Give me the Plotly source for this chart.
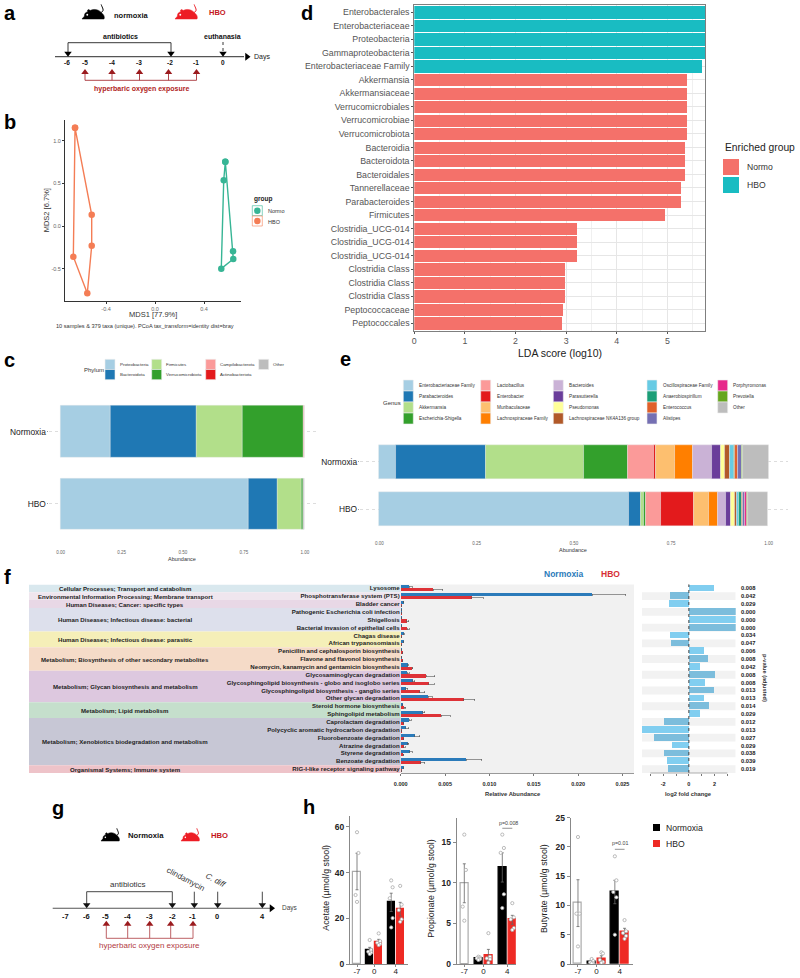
import plotly.graph_objects as go

W, H = 800, 978
FONT = "Liberation Sans"

# panel a / g timelines (schematic days and where each one sits on the canvas)
A_DAYS = ["-6", "-5", "-4", "-3", "-2", "-1", "0"]
A_DAY_X = [66.7, 85, 112, 139.3, 170, 196.3, 223]
A_HBO_X = [85, 112, 139.5, 168.5, 196.5]
G_DAYS = ["-7", "-6", "-5", "-4", "-3", "-2", "-1", "0", "4"]
G_DAY_X = [65.7, 86.7, 105.3, 127, 149, 172.3, 192, 217, 262]
G_HBO_X = [106.3, 127.7, 149.7, 170.7, 193]
G_DOSE_X = [194.3, 217.7, 262.3]

# panel b
MDS_HBO_X = [-0.653, -0.517, -0.517, -0.553, -0.667, -0.653]
MDS_HBO_Y = [1.152, 0.132, -0.231, -0.789, -0.36, 1.152]
MDS_NORMO_X = [0.574, 0.637, 0.639, 0.541, 0.561, 0.574]
MDS_NORMO_Y = [0.754, -0.297, -0.387, -0.5, 0.536, 0.754]

# panel c
PHYLA = ["Proteobacteria", "Bacteroidota", "Firmicutes", "Verrucomicrobiota",
         "Campilobacterota", "Actinobacteriota", "Other"]
PHYLA_COLORS = ["#A6CEE3", "#1F78B4", "#B2DF8A", "#33A02C", "#FB9A99", "#E31A1C", "#BDBDBD"]
PHYLA_NORMOXIA = [0.204, 0.351, 0.188, 0.252, 0.005, 0.0, 0.0]
PHYLA_HBO = [0.770, 0.118, 0.100, 0.0065, 0.0, 0.0, 0.0055]

# panel d
LDA_TAXA = ["Enterobacterales", "Enterobacteriaceae", "Proteobacteria", "Gammaproteobacteria",
            "Enterobacteriaceae Family", "Akkermansia", "Akkermansiaceae", "Verrucomicrobiales",
            "Verrucomicrobiae", "Verrucomicrobiota", "Bacteroidia", "Bacteroidota", "Bacteroidales",
            "Tannerellaceae", "Parabacteroides", "Firmicutes", "Clostridia_UCG-014",
            "Clostridia_UCG-014", "Clostridia_UCG-014", "Clostridia Class", "Clostridia Class",
            "Clostridia Class", "Peptococcaceae", "Peptococcales"]
LDA_SCORE = [5.75, 5.75, 5.75, 5.75, 5.685, 5.40, 5.40, 5.40, 5.40, 5.40, 5.35, 5.35, 5.35,
             5.27, 5.27, 4.96, 3.22, 3.22, 3.22, 2.99, 2.99, 2.99, 2.94, 2.93]
LDA_GROUP = ["HBO"] * 5 + ["Normo"] * 19

# panel e
GENERA = ["Enterobacteriaceae Family", "Parabacteroides", "Akkermansia", "Escherichia-Shigella",
          "Lactobacillus", "Enterobacter", "Muribaculaceae", "Lachnospiraceae Family",
          "Bacteroides", "Parasutterella", "Pseudomonas", "Lachnospiraceae NK4A136 group",
          "Oscillospiraceae Family", "Anaerobiospirillum", "Enterococcus", "Alistipes",
          "Porphyromonas", "Prevotella", "Other"]
GENERA_COLORS = ["#A6CEE3", "#1F78B4", "#B2DF8A", "#33A02C", "#FB9A99", "#E31A1C", "#FDBF6F",
                 "#FF7F00", "#CAB2D6", "#6A3D9A", "#FFFF99", "#B15928", "#67CBE4", "#1B9E77",
                 "#E0602A", "#7570B3", "#E7298A", "#66A61E", "#BDBDBD"]
GENERA_NORMOXIA = [0.043, 0.2307, 0.2515, 0.1138, 0.066, 0.005, 0.048, 0.047, 0.0496, 0.024,
                   0.0094, 0.0127, 0.011, 0.0017, 0.0085, 0.0085, 0.001, 0.0023, 0.0663]
GENERA_HBO = [0.640, 0.032, 0.0067, 0.0067, 0.0377, 0.0847, 0.0385, 0.0222, 0.0205, 0.0145,
              0.0111, 0.0051, 0.0051, 0.0068, 0.0034, 0.0034, 0.0051, 0.0043, 0.0513]

# panel f
PATHWAYS = ["Lysosome", "Phosphotransferase system (PTS)", "Bladder cancer",
            "Pathogenic Escherichia coli infection", "Shigellosis",
            "Bacterial invasion of epithelial cells", "Chagas disease", "African trypanosomiasis",
            "Penicillin and cephalosporin biosynthesis", "Flavone and flavonol biosynthesis",
            "Neomycin, kanamycin and gentamicin biosynthesis", "Glycosaminoglycan degradation",
            "Glycosphingolipid biosynthesis - globo and isoglobo series",
            "Glycosphingolipid biosynthesis - ganglio series", "Other glycan degradation",
            "Steroid hormone biosynthesis", "Sphingolipid metabolism", "Caprolactam degradation",
            "Polycyclic aromatic hydrocarbon degradation", "Fluorobenzoate degradation",
            "Atrazine degradation", "Styrene degradation", "Benzoate degradation",
            "RIG-I-like receptor signaling pathway"]
PATH_GROUPS = ["Cellular Processes; Transport and catabolism",
               "Environmental Information Processing; Membrane transport",
               "Human Diseases; Cancer: specific types",
               "Human Diseases; Infectious disease: bacterial",
               "Human Diseases; Infectious disease: parasitic",
               "Metabolism; Biosynthesis of other secondary metabolites",
               "Metabolism; Glycan biosynthesis and metabolism",
               "Metabolism; Lipid metabolism",
               "Metabolism; Xenobiotics biodegradation and metabolism",
               "Organismal Systems; Immune system"]
PATH_GROUP_ROWS = [1, 1, 1, 3, 2, 3, 4, 2, 6, 1]
PATH_GROUP_COLORS = ["#D9E8EE", "#EFE6EE", "#E8D8E6", "#DDE0EC", "#F5EFB8",
                     "#F5DBC8", "#DDC8DF", "#C5DFCC", "#C7C7D5", "#EEC3C9"]
ABUND_NORMOXIA = [.00094, .02158, .0003, .00004, .0001, .0001, .00034, .0003, .0001, .0001,
                  .00079, .00071, .00135, .00056, .00308, .00023, .00248, .00094, .00056,
                  .00158, .00075, .00098, .00737, .00034]
ABUND_NORMOXIA_ERR = [.00034, .0038, .00004, 0, 0, 0, .00004, .00004, 0, 0,
                      .00004, .00027, .00023, .00023, .00049, .00002, .00023, .00026, .00034,
                      .00056, .00015, .00034, .00177, .00002]
ABUND_HBO = [.00365, .00801, .00008, .00008, .00068, .00071, .00011, .0001, .00023, .00015,
             .00128, .00286, .00316, .00211, .00707, .00038, .00455, .0003, .00011,
             .00034, .00034, .00026, .00222, .00011]
ABUND_HBO_ERR = [.00109, .00131, 0, 0, .00022, .00027, 0, 0, .00002, 0,
                 .00008, .00097, .00064, .0006, .00128, .00018, .00105, .00004, 0,
                 .00002, .00015, .00008, .00049, 0]
LOG2FC = [1.97, -1.45, -1.53, 3.66, 3.66, 3.66, -1.48, -1.38, 1.19, 1.5, 0.83, 2.03, 1.22, 1.97,
          1.19, 1.56, 0.88, -1.92, -3.64, -2.68, -1.32, -1.97, -1.74, -1.61]
P_ADJ = ["0.008", "0.042", "0.029", "0.000", "0.000", "0.000", "0.034", "0.047", "0.006", "0.008",
         "0.042", "0.008", "0.008", "0.013", "0.013", "0.014", "0.029", "0.012", "0.013", "0.027",
         "0.029", "0.038", "0.039", "0.019"]

# panel h, bars in order -7, 0 normoxia, 0 HBO, 4 normoxia, 4 HBO
SCFA_SLOTS = [0, 1.41, 2.41, 3.8, 4.8]
SCFA_DAY_TICKS = [0, 1.91, 4.3]
SCFA_DAY_LABELS = ["-7", "0", "4"]
ACETATE = [40.5, 6.3, 9.8, 27, 24]
ACETATE_ERR = [8, 1, 1, 4, 3]
ACETATE_PTS = [[57.7, 48.6, 30.2, 27.2], [10.5, 6.1, 5.4, 5, 4.4], [13.4, 10, 9.3, 8.8, 8.3],
               [36.6, 33.6, 28.8, 20.1, 16], [34.2, 26, 23.6, 19.6, 18.5]]
PROPIONATE = [9.95, 0.7, 1.1, 11.9, 5.45]
PROPIONATE_ERR = [2.4, 0.1, 0.7, 1.8, 0.55]
PROPIONATE_PTS = [[15.95, 11.6, 7.07, 5.34], [0.9, 0.8, 0.7, 0.6, 0.5], [3.8, 0.9, 0.7, 0.6, 0.16],
                  [15.95, 14.3, 13.7, 8.6, 6.9], [7.5, 5.75, 5.5, 4.44, 4.2]]
BUTYRATE = [10.4, 0.4, 0.9, 12.3, 5.5]
BUTYRATE_ERR = [4, 0.2, 0.5, 2, 0.6]
BUTYRATE_PTS = [[21.7, 8.6, 8.6, 3], [0.85, 0.5, 0.3, 0.1, 0.1], [2, 1.8, 0.7, 0.35, 0.2],
                [18.4, 14.3, 12.3, 11.4, 5], [7.5, 5.6, 5.3, 4.8, 4.3]]

layout = dict(shapes=[], annotations=[])
fig = go.Figure()


def X(px):
    return px / W


def Y(py):
    return 1 - py / H


def note(text, x, y, size, color="#222222", anchor="center", angle=0, yref=None, bold=False):
    if bold:
        text = "<b>" + text + "</b>"
    layout["annotations"].append(dict(
        text=text, x=X(x), y=y if yref else Y(y), xref="paper", yref=yref or "paper",
        xanchor=anchor, yanchor="middle", showarrow=False, textangle=angle,
        font=dict(size=size, color=color, family=FONT)))


def box(x0, y0, x1, y1, color, line=None, layer="above"):
    layout["shapes"].append(dict(
        type="rect", xref="paper", yref="paper", x0=X(x0), x1=X(x1), y0=Y(y0), y1=Y(y1),
        fillcolor=color, line=dict(color=line or color, width=0.6 if line else 0), layer=layer))


def add_axes(n, left, right, top, bottom, xcfg, ycfg):
    layout[f"xaxis{n}"] = dict(domain=[X(left), X(right)], anchor=f"y{n}", **xcfg)
    layout[f"yaxis{n}"] = dict(domain=[Y(bottom), Y(top)], anchor=f"x{n}", **ycfg)


def mouse(x, y, w, h, color):
    # little mouse glyph, icon space is 24 x 16 units
    sx, sy = w / 24, h / 16

    def p(a, b):
        return f"{X(x + a * sx):.5f},{Y(y + b * sy):.5f}"

    body = (f"M{p(0, 16)} L{p(2.5, 13)} C{p(2.5, 10)} {p(4, 8.5)} {p(6, 8.5)} "
            f"C{p(5, 6)} {p(7, 5)} {p(8.5, 7)} C{p(12, 5)} {p(17, 5.5)} {p(20, 9)} "
            f"C{p(22.5, 11)} {p(24, 13.5)} {p(23, 16)} Z")
    tail = f"M{p(20, 9)} C{p(24, 7)} {p(21, 4)} {p(20, 0.5)}"
    layout["shapes"].append(dict(type="path", path=body, xref="paper", yref="paper",
                                 fillcolor=color, line=dict(color=color, width=0.5)))
    layout["shapes"].append(dict(type="path", path=tail, xref="paper", yref="paper",
                                 line=dict(color=color, width=1)))
    layout["shapes"].append(dict(type="circle", xref="paper", yref="paper", fillcolor="#FFFFFF",
                                 x0=X(x + 4.5 * sx), x1=X(x + 6.5 * sx), y0=Y(y + 12.5 * sy), y1=Y(y + 10.5 * sy),
                                 line=dict(width=0)))


def tl_line(xs, ys, color, width=1.0, dash="solid"):
    fig.add_trace(go.Scatter(x=xs, y=ys, mode="lines", xaxis="x10", yaxis="y10", showlegend=False,
                             line=dict(color=color, width=width, dash=dash)))


def tl_heads(xs, ys, color, symbol, size=7):
    fig.add_trace(go.Scatter(x=xs, y=ys, mode="markers", xaxis="x10", yaxis="y10", showlegend=False,
                             marker=dict(color=color, symbol=symbol, size=size, line=dict(width=0))))


def stacked(names, colors, normoxia, hbo, xaxis, yaxis):
    left = [0.0, 0.0]
    for name, color, v_n, v_h in zip(names, colors, normoxia, hbo):
        vals = [v_h, v_n]
        fig.add_trace(go.Bar(y=["HBO", "Normoxia"], x=vals, base=list(left), name=name, orientation="h",
                             width=0.71, xaxis=xaxis, yaxis=yaxis, showlegend=False,
                             marker=dict(color=color, line=dict(color="rgba(235,235,235,0.7)", width=0.5))))
        left = [left[0] + v_h, left[1] + v_n]


# canvas axes for the schematics
add_axes(10, 0, W, 0, H, dict(range=[0, W], visible=False), dict(range=[H, 0], visible=False))

# ---- a
mouse(82, 4, 23, 15, "#000000")
mouse(175, 4, 23, 15, "#ED1C24")
note("normoxia", 112, 15, 7.5, "#111111", "left", bold=True)
note("HBO", 207, 13, 7.5, "#C4161C", "left", bold=True)
note("antibiotics", 120, 36, 7, "#111111", bold=True)
note("euthanasia", 222, 36, 7, "#111111", bold=True)
tl_line([55, 244], [56.7, 56.7], "#555555", 1.2)
tl_heads([247], [56.7], "#000000", "triangle-right", 7)
note("Days", 252, 56.7, 7, "#222222", "left")
tl_line([68, 68, 171, 171], [53, 42.7, 42.7, 53], "#222222", 0.9)
tl_heads([68, 171], [53.5, 53.5], "#000000", "triangle-down", 6.5)
tl_line([223, 223], [42, 51], "#222222", 0.9, "dot")
tl_heads([223], [53.5], "#000000", "triangle-down", 6.5)
for day, px in zip(A_DAYS, A_DAY_X):
    note(day, px, 63, 6.5, "#111111", bold=True)
tl_line([A_HBO_X[0], A_HBO_X[-1]], [80.3, 80.3], "#A83238", 0.9)
for px in A_HBO_X:
    tl_line([px, px], [80.3, 74], "#A83238", 0.9)
tl_heads(A_HBO_X, [72.3] * 5, "#9B1B1E", "triangle-up", 6.5)
note("hyperbaric oxygen exposure", 141, 89, 7, "#B01C22", bold=True)

# ---- b
add_axes(1, 65, 241, 120, 301,
         dict(range=[-0.735, 0.702], tickvals=[-0.4, 0.0, 0.4], ticktext=["-0.4", "0.0", "0.4"],
              showline=True, linecolor="#333333", linewidth=1, ticks="outside", ticklen=2,
              tickcolor="#333333", showgrid=False, zeroline=False,
              tickfont=dict(size=5.5, color="#666666")),
         dict(range=[-0.879, 1.243], tickvals=[-0.5, 0.0, 0.5, 1.0], ticktext=["-0.5", "0.0", "0.5", "1.0"],
              showline=True, linecolor="#333333", linewidth=1, ticks="outside", ticklen=2,
              tickcolor="#333333", showgrid=False, zeroline=False,
              tickfont=dict(size=5.5, color="#666666")))
for xs, ys, color in [(MDS_HBO_X, MDS_HBO_Y, "#F47D55"), (MDS_NORMO_X, MDS_NORMO_Y, "#37B595")]:
    fig.add_trace(go.Scatter(x=xs, y=ys, mode="lines+markers", xaxis="x", yaxis="y", showlegend=False,
                             line=dict(color=color, width=1.4), marker=dict(color=color, size=6.5)))
layout["xaxis"] = layout.pop("xaxis1")
layout["yaxis"] = layout.pop("yaxis1")
layout["xaxis"]["anchor"] = "y"
layout["yaxis"]["anchor"] = "x"
note("MDS1 [77.9%]", 153, 315, 7.5, "#333333")
note("MDS2 [6.7%]", 47.3, 210, 7.5, "#333333", angle=-90)
note("10 samples &amp; 379 taxa (unique). PCoA tax_transform=identity dist=bray", 145, 325.7, 5.6, "#333333")
note("group", 252, 199, 6.5, "#222222", "left", bold=True)
box(252.3, 205.7, 262.3, 215.7, "#FFFFFF", "#37B595", layer="below")
box(252.3, 216, 262.3, 226, "#FFFFFF", "#F47D55", layer="below")
tl_heads([257.3], [210.7], "#37B595", "circle", 6.5)
tl_heads([257.3], [221], "#F47D55", "circle", 6.5)
note("Normo", 266.3, 210.7, 5.5, "#333333", "left")
note("HBO", 266.3, 221.7, 5.5, "#333333", "left")

# ---- c
add_axes(2, 48.5, 317, 395.5, 540,
         dict(range=[-0.05, 1.05], tickvals=[0, 0.25, 0.5, 0.75, 1], ticktext=["0.00", "0.25", "0.50", "0.75", "1.00"],
              showgrid=False, zeroline=False, ticks="outside", ticklen=8, tickcolor="rgba(255,255,255,0)",
              tickfont=dict(size=4.5, color="#666666")),
         dict(type="category", categoryorder="array", categoryarray=["HBO", "Normoxia"], range=[-0.5, 1.5],
              showgrid=True, gridcolor="#DDDDDD", griddash="dot", gridwidth=0.6, ticks="outside", ticklen=1,
              tickcolor="#999999", ticklabelstandoff=-1, tickfont=dict(size=8.4, color="#222222")))
stacked(PHYLA, PHYLA_COLORS, PHYLA_NORMOXIA, PHYLA_HBO, "x2", "y2")
note("Abundance", 182, 559, 5.5, "#333333")
note("Phylum", 82, 370, 6, "#333333", "left")
C_COLS = [(105, 118), (151.7, 164.3), (205.7, 218), (258.7, 271)]
for i, (name, color) in enumerate(zip(PHYLA, PHYLA_COLORS)):
    sx, tx = C_COLS[i // 2]
    top = 359.3 + (i % 2) * 10.2
    box(sx, top, sx + 10, top + 10.2, color, "#EEEEEE")
    note(name, tx, top + 5.2, 4.4, "#333333", "left")

# ---- d
d_colors = ["#19BCC2" if g == "HBO" else "#F4716A" for g in LDA_GROUP]
add_axes(3, 414.3, 705.3, 4.7, 330.7,
         dict(range=[0, 5.75], tick0=0, dtick=1, showgrid=True, gridcolor="#E6E6E6", gridwidth=0.7,
              minor=dict(dtick=0.5, showgrid=True, gridcolor="#F0F0F0", gridwidth=0.5),
              showline=True, mirror=True, linecolor="#7F7F7F", linewidth=1, ticks="outside", ticklen=2,
              tickcolor="#555555", zeroline=False, tickfont=dict(size=8.8, color="#555555")),
         dict(range=[23.55, -0.55], tickvals=list(range(24)), ticktext=LDA_TAXA, showgrid=True,
              gridcolor="#E6E6E6", gridwidth=0.7, showline=True, mirror=True, linecolor="#7F7F7F",
              linewidth=1, ticks="outside", ticklen=2, tickcolor="#555555", zeroline=False,
              tickfont=dict(size=8.8, color="#555555")))
fig.add_trace(go.Bar(y=list(range(24)), x=LDA_SCORE, orientation="h", width=0.9, xaxis="x3", yaxis="y3",
                     showlegend=False, marker=dict(color=d_colors, line=dict(width=0))))
note("LDA score (log10)", 560, 353, 10.5, "#222222")
note("Enriched group", 722.7, 147, 10.3, "#222222", "left")
box(723, 159, 739, 175, "#F4716A")
box(723, 177, 739, 193, "#19BCC2")
note("Normo", 745, 167, 8.6, "#333333", "left")
note("HBO", 745, 184.7, 8.6, "#333333", "left")

# ---- e
add_axes(4, 359.8, 788, 438.1, 532.9,
         dict(range=[-0.05, 1.05], tickvals=[0, 0.25, 0.5, 0.75, 1], ticktext=["0.00", "0.25", "0.50", "0.75", "1.00"],
              showgrid=False, zeroline=False, ticks="outside", ticklen=6, tickcolor="rgba(255,255,255,0)",
              tickfont=dict(size=4.5, color="#666666")),
         dict(type="category", categoryorder="array", categoryarray=["HBO", "Normoxia"], range=[-0.5, 1.5],
              showgrid=True, gridcolor="#DDDDDD", griddash="dot", gridwidth=0.6, ticks="outside", ticklen=1,
              tickcolor="#999999", ticklabelstandoff=-1, tickfont=dict(size=8.4, color="#222222")))
stacked(GENERA, GENERA_COLORS, GENERA_NORMOXIA, GENERA_HBO, "x4", "y4")
note("Abundance", 573, 550, 5.5, "#333333")
note("Genus", 381, 402.7, 6, "#333333", "left")
E_COLS = [(403.3, 417.3, 4), (480.7, 494.7, 4), (553.3, 567, 4), (647, 660.7, 4), (717.7, 731.3, 3)]
i = 0
for sx, tx, n in E_COLS:
    for r in range(n):
        top = 380 + r * 11
        box(sx, top, sx + 10, top + 11, GENERA_COLORS[i], "#EEEEEE")
        note(GENERA[i], tx, top + 5.7, 4.7, "#333333", "left")
        i += 1

# ---- f
F_ROWS = list(range(24))
add_axes(5, 400.7, 634, 584.4, 773,
         dict(range=[0, 0.0263], tickvals=[0, 0.005, 0.01, 0.015, 0.02, 0.025], tickformat=".3f",
              showgrid=False, zeroline=False, showline=True, linecolor="#999999", linewidth=0.8, ticks="outside",
              ticklen=2, tickcolor="#777777", ticklabelstandoff=3, tickfont=dict(size=5.5, color="#222222", weight="bold")),
         dict(range=[23.5, -0.5], tickvals=F_ROWS, ticktext=PATHWAYS, showgrid=False, zeroline=False, ticklen=0,
              tickfont=dict(size=6.1, color="#222222", weight="bold")))
err_style = dict(type="data", symmetric=False, color="#555555", thickness=0.6, width=1)
fig.add_trace(go.Bar(y=F_ROWS, x=ABUND_NORMOXIA, orientation="h", width=0.4, offset=-0.4, xaxis="x5", yaxis="y5",
                     showlegend=False, marker=dict(color="#2B7BBA", line=dict(width=0)),
                     error_x=dict(array=ABUND_NORMOXIA_ERR, arrayminus=[0] * 24, **err_style)))
fig.add_trace(go.Bar(y=F_ROWS, x=ABUND_HBO, orientation="h", width=0.4, offset=0, xaxis="x5", yaxis="y5",
                     showlegend=False, marker=dict(color="#DE3237", line=dict(width=0)),
                     error_x=dict(array=ABUND_HBO_ERR, arrayminus=[0] * 24, **err_style)))
layout["shapes"].append(dict(type="rect", xref="paper", yref="paper", x0=X(400.7), x1=X(634), y0=Y(773), y1=Y(584.4),
                             fillcolor="#F1F1F1", line=dict(width=0), layer="below"))
row = 0
for name, n, color in zip(PATH_GROUPS, PATH_GROUP_ROWS, PATH_GROUP_COLORS):
    layout["shapes"].append(dict(type="rect", xref="paper", yref="y5", x0=X(29), x1=X(400.7),
                                 y0=row - 0.5, y1=row + n - 0.5, fillcolor=color, line=dict(width=0), layer="below"))
    note(name, 125.5, row + (n - 1) / 2, 6.1, "#222222", yref="y5", bold=True)
    row += n
note("Normoxia", 563, 574, 8.5, "#2B7BBA", bold=True)
note("HBO", 610, 574, 8.5, "#D62F37", bold=True)
note("Relative Abundance", 513, 794, 5.8, "#333333", bold=True)

add_axes(6, 642, 735.7, 584.4, 773,
         dict(range=[-3.65, 3.65], tickvals=[-3, -2, -1, 0, 1, 2, 3], ticktext=["", "-2", "", "0", "", "2", ""],
              showgrid=False, zeroline=False, ticks="outside", ticklen=2, tickcolor="#777777", ticklabelstandoff=3,
              tickfont=dict(size=5.5, color="#222222", weight="bold")),
         dict(range=[23.5, -0.5], visible=False))
fc_colors = ["#81CEF0" if r % 2 == 0 else "#7CBDDC" for r in F_ROWS]
fig.add_trace(go.Bar(y=F_ROWS, x=LOG2FC, orientation="h", width=0.85, xaxis="x6", yaxis="y6", showlegend=False,
                     marker=dict(color=fc_colors, line=dict(width=0))))
for r in F_ROWS:
    if r % 2 == 1:
        layout["shapes"].append(dict(type="rect", xref="x6", yref="y6", x0=-3.65, x1=3.65, y0=r - 0.5, y1=r + 0.5,
                                     fillcolor="#F2F2F2", line=dict(width=0), layer="below"))
    note("<b>" + P_ADJ[r] + "</b>", 748.7, r, 5.8, "#222222", yref="y6")
layout["shapes"].append(dict(type="line", xref="x6", yref="paper", x0=0, x1=0, y0=Y(773), y1=Y(584.4),
                             line=dict(color="#444444", width=1, dash="dot")))
layout["shapes"].append(dict(type="line", xref="x6", yref="paper", x0=-3, x1=3, y0=Y(773), y1=Y(773),
                             line=dict(color="#999999", width=0.8)))
note("log2 fold change", 688.7, 794, 5.8, "#333333", bold=True)
note("p-value (adjusted)", 765, 678, 5.6, "#333333", angle=90, bold=True)

# ---- g
mouse(101, 828, 19, 13, "#000000")
mouse(181, 828, 19, 13, "#ED1C24")
note("Normoxia", 125.7, 835, 7.7, "#111111", "left", bold=True)
note("HBO", 208.7, 835, 7.7, "#C4161C", "left", bold=True)
note("antibiotics", 128, 884.7, 8, "#333333")
note("clindamycin", 186, 879, 8, "#333333", angle=28)
note("<i>C. diff</i>", 216, 880, 8, "#333333", angle=28)
tl_line([52.7, 270], [908.3, 908.3], "#555555", 1.1)
tl_heads([271.5], [908.3], "#000000", "triangle-right", 7)
note("Days", 279.5, 908.3, 6.5, "#444444", "left")
tl_line([86.7, 86.7, 172.3, 172.3], [904, 891.7, 891.7, 904], "#333333", 0.9)
tl_heads([86.7, 172.3], [905, 905], "#111111", "triangle-down", 6.5)
for px in G_DOSE_X:
    tl_line([px, px], [891.7, 904], "#333333", 0.9)
tl_heads(G_DOSE_X, [905] * 3, "#111111", "triangle-down", 6.5)
for day, px in zip(G_DAYS, G_DAY_X):
    note(day, px, 916, 7.5, "#111111", bold=True)
tl_line([G_HBO_X[0], G_HBO_X[-1]], [938.3, 938.3], "#B65055", 0.9)
for px in G_HBO_X:
    tl_line([px, px], [938.3, 925], "#B65055", 0.9)
tl_heads(G_HBO_X, [924] * 5, "#9B1B1E", "triangle-up", 6.5)
note("hyperbaric oxygen exposure", 149, 945.7, 8, "#B23A3F")

# ---- h
BAR_COLORS = ["#FFFFFF", "#000000", "#EE2A24", "#000000", "#EE2A24"]
BAR_LINES = ["#AAAAAA", "#000000", "#EE2A24", "#000000", "#EE2A24"]


def scfa_panel(n, left, right, top, xmax, xmin, ymax, ticks, values, errs, pts):
    add_axes(n, left, right, top, 964,
             dict(range=[xmin, xmax], tickvals=SCFA_DAY_TICKS, ticktext=SCFA_DAY_LABELS, showgrid=False,
                  zeroline=False, showline=True, linecolor="#888888", linewidth=1, ticks="outside", ticklen=1.5,
                  tickcolor="#888888", ticklabelstandoff=-2, tickfont=dict(size=8, color="#222222")),
             dict(range=[0, ymax], tickvals=ticks, showgrid=False, zeroline=False, showline=True,
                  linecolor="#888888", linewidth=1, ticks="outside", ticklen=3, tickcolor="#888888",
                  tickfont=dict(size=8.5, color="#222222", weight="bold")))
    fig.add_trace(go.Bar(x=SCFA_SLOTS, y=values, width=0.8, xaxis=f"x{n}", yaxis=f"y{n}", showlegend=False,
                         marker=dict(color=BAR_COLORS, line=dict(color=BAR_LINES, width=1.2)),
                         error_y=dict(type="data", array=errs, color="#666666", thickness=0.8, width=1.5)))
    px, py = [], []
    for slot, vals in zip(SCFA_SLOTS, pts):
        for k, v in enumerate(vals):
            px.append(slot + (0.16 if k % 2 else -0.16) * (k > 0 and k < len(vals) - 1))
            py.append(v)
    fig.add_trace(go.Scatter(x=px, y=py, mode="markers", xaxis=f"x{n}", yaxis=f"y{n}", showlegend=False,
                             marker=dict(color="#FFFFFF", size=3.2, line=dict(color="#AAAAAA", width=0.8))))


scfa_panel(7, 350, 408, 816, 5.67, -0.78, 64.8, [0, 20, 40, 60], ACETATE, ACETATE_ERR, ACETATE_PTS)
scfa_panel(8, 456.7, 515.7, 818.3, 5.14, -0.76, 17.96, [0, 5, 10, 15], PROPIONATE, PROPIONATE_ERR, PROPIONATE_PTS)
scfa_panel(9, 570.7, 632.7, 817.7, 5.64, -0.75, 25, [0, 5, 10, 15, 20, 25], BUTYRATE, BUTYRATE_ERR, BUTYRATE_PTS)
note("Acetate (µmol/g stool)", 325.7, 888, 8.8, "#222222", angle=-90)
note("Propionate (µmol/g stool)", 430.7, 888, 8.8, "#222222", angle=-90)
note("Butyrate (µmol/g stool)", 544, 889, 8.8, "#222222", angle=-90)
for axn, y_line, x_mid, y_text, label in [(8, 16.73, 508, 822.7, "p=0.008"), (9, 19.6, 620, 843.3, "p=0.01")]:
    layout["shapes"].append(dict(type="line", xref=f"x{axn}", yref=f"y{axn}", x0=3.8, x1=4.8, y0=y_line, y1=y_line,
                                 line=dict(color="#777777", width=0.8)))
    note(label, x_mid, y_text, 5.3, "#444444")
box(653, 824, 660, 831, "#000000")
box(653, 840, 660, 847, "#EE2A24")
note("Normoxia", 664, 827.5, 8.6, "#222222", "left")
note("HBO", 664, 843.5, 8.6, "#222222", "left")

# panel letters
for letter, x, y in [("a", 2, 12.5), ("b", 2, 122), ("c", 2, 360), ("d", 299, 12.5), ("e", 338, 359),
                     ("f", 2, 577), ("g", 50, 808), ("h", 301, 807)]:
    note(letter, x, y, 20, "#000000", "left", bold=True)

# autoexpand off: paper annotations close to the edge would otherwise shrink the plot area
fig.update_layout(
    width=W, height=H, margin=dict(l=0, r=0, t=0, b=0, pad=0, autoexpand=False), autosize=False,
    paper_bgcolor="#FFFFFF", plot_bgcolor="rgba(0,0,0,0)", barmode="overlay", bargap=0,
    font=dict(family=FONT), **layout)

# the page's default body margin would push the whole figure off its 800x978 frame
fig.write_html("out.html", config=dict(displayModeBar=False),
               post_script="document.body.style.margin='0';document.body.style.overflow='hidden';")
